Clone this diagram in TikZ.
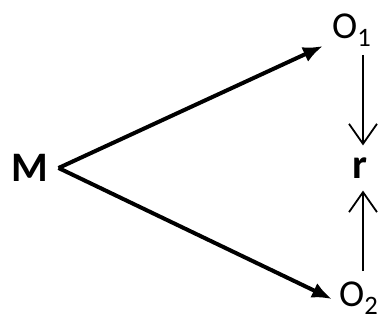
\documentclass[tikz,border=0pt]{standalone}
\usepackage{fontspec}
\setmainfont{Carlito}
\usetikzlibrary{arrows.meta}
\begin{document}
\begin{tikzpicture}[x=1pt, y=1pt,
  lbl/.style={inner sep=0pt, font=\fontsize{38}{40}\selectfont},
  bold/.style={font=\fontsize{42}{44}\selectfont\bfseries},
  diag/.style={line width=4pt, -{Latex[length=20pt,width=16pt]}},
  vert/.style={line width=1.8pt, -{Straight Barb[length=20pt,width=28pt]}}]
\useasboundingbox (0,0) rectangle (391,320);
\node[lbl, bold] (M) at (30,152) {M};
\node[lbl, anchor=south west] (O1) at (332,273) {O\textsubscript{1}};
\node[lbl, anchor=south west] (O2) at (339,5) {O\textsubscript{2}};
\node[lbl, bold] (r) at (360,152) {r};
% diagonal arrows
\coordinate (v) at ([xshift=10pt]M.east);
\draw[diag] (v) -- ([xshift=-9pt,yshift=1pt]O1.south west);
\draw[diag] (v) -- ([xshift=-7pt,yshift=-1pt]O2.west);
% vertical arrows
\draw[vert, shorten <=8pt, shorten >=12pt] ([xshift=3pt]r.north |- O1.south) -- ([xshift=3pt]r.north);
\draw[vert, shorten <=10pt, shorten >=12pt] ([xshift=3pt]r.south |- O2.north) -- ([xshift=3pt]r.south);
\end{tikzpicture}
\end{document}
